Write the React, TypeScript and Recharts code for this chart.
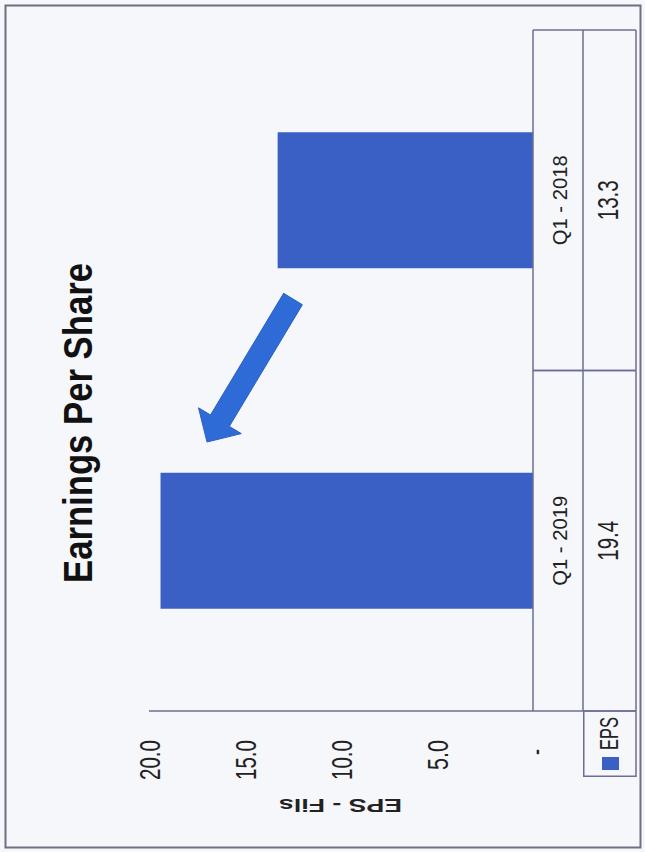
import React from 'react';
import { BarChart, Bar, XAxis, YAxis, Legend } from 'recharts';

// ---- data ----
const categories = ['Q1 - 2019', 'Q1 - 2018'];
const epsValues = [19.4, 13.3];
const valueTicks = [0, 5, 10, 15, 20];
const seriesName = 'EPS';
const chartTitle = 'Earnings Per Share';
const axisTitle = 'EPS - Fils';

const data = categories.map((c, i) => ({ category: c, eps: epsValues[i] }));

// ---- layout (unrotated frame: width = page height, height = page width) ----
const W = 852;
const H = 645;
const M_LEFT = 141;
const M_RIGHT = 30;
const M_TOP = 149;
const X_AXIS_H = 112;
const PLOT_BOTTOM = H - X_AXIS_H; // 533
const BAND = (W - M_LEFT - M_RIGHT) / categories.length;
const ROW_MID = 583;
const ROW_END = 636;
const LINE = '#6b6f95';
const FONT = '"Liberation Sans", Arial, sans-serif';
const BAR_COLOR = '#3a60c6';

function ValueTick(props: any) {
  const { y, payload } = props;
  const v = payload.value as number;
  if (v === 0) {
    return (
      <text x={97} y={y + 13} fontSize={29} fontFamily={FONT} fill="#222"
        textLength={6} lengthAdjust="spacingAndGlyphs">-</text>
    );
  }
  const label = v.toFixed(1);
  return (
    <text x={112} y={y + 11} textAnchor="end" fontSize={29} fontFamily={FONT} fill="#222"
      textLength={label.length * 10} lengthAdjust="spacingAndGlyphs">{label}</text>
  );
}

function TableTick(props: any) {
  const { x, payload } = props;
  const i = categories.indexOf(payload.value);
  const half = BAND / 2;
  return (
    <g>
      <line x1={x - half} x2={x - half} y1={PLOT_BOTTOM} y2={ROW_END} stroke={LINE} strokeWidth={1.5} />
      <line x1={x + half} x2={x + half} y1={PLOT_BOTTOM} y2={ROW_END} stroke={LINE} strokeWidth={1.5} />
      <line x1={x - half} x2={x + half} y1={ROW_MID} y2={ROW_MID} stroke={LINE} strokeWidth={1.5} />
      <line x1={x - half} x2={x + half} y1={ROW_END} y2={ROW_END} stroke={LINE} strokeWidth={1.5} />
      <text x={x} y={567} textAnchor="middle" fontSize={20} fontFamily={FONT} fill="#222"
        textLength={90} lengthAdjust="spacingAndGlyphs">{categories[i]}</text>
      <text x={x} y={618} textAnchor="middle" fontSize={29} fontFamily={FONT} fill="#222"
        textLength={40} lengthAdjust="spacingAndGlyphs">{epsValues[i].toFixed(1)}</text>
    </g>
  );
}

function LegendCell(props: any) {
  const item = props.payload && props.payload[0];
  const color = item ? item.color : BAR_COLOR;
  const name = item ? item.value : seriesName;
  return (
    <svg width={67} height={54} style={{ display: 'block', overflow: 'visible' }}>
      <line x1={0.75} x2={0.75} y1={0} y2={53} stroke={LINE} strokeWidth={1.5} />
      <line x1={0} x2={66} y1={53} y2={53} stroke={LINE} strokeWidth={1.5} />
      <line x1={0} x2={66} y1={0.75} y2={0.75} stroke={LINE} strokeWidth={1.5} />
      <line x1={66} x2={66} y1={0} y2={53} stroke={LINE} strokeWidth={1.5} />
      <rect x={7} y={19} width={13} height={17} fill={color} />
      <text x={27} y={35} fontSize={25} fontFamily={FONT} fill="#222"
        textLength={33} lengthAdjust="spacingAndGlyphs">{name}</text>
    </svg>
  );
}

export default function App() {
  return (
    <div style={{ position: 'fixed', left: 0, top: 0, width: 645, height: 852, background: '#f6f7fb', overflow: 'hidden' }}>
      <div style={{ position: 'absolute', left: 0, top: 0, width: W, height: H, transformOrigin: '0 0', transform: 'translateY(852px) rotate(-90deg)' }}>
        <BarChart width={W} height={H} data={data} margin={{ top: M_TOP, right: M_RIGHT, bottom: 0, left: 0 }} barCategoryGap="30%">
          <XAxis dataKey="category" height={X_AXIS_H} interval={0} tickLine={false}
            axisLine={{ stroke: LINE, strokeWidth: 1.5 }} tick={<TableTick />} />
          <YAxis width={M_LEFT} domain={[0, 20]} ticks={valueTicks} tickLine={false}
            axisLine={{ stroke: LINE, strokeWidth: 1.5 }} tick={<ValueTick />} />
          <Legend layout="horizontal" verticalAlign="middle" align="center" content={<LegendCell />}
            wrapperStyle={{ position: 'absolute', left: 75, top: ROW_MID, width: 67, height: 54, margin: 0, padding: 0 }} />
          <Bar dataKey="eps" name={seriesName} fill={BAR_COLOR} isAnimationActive={false} />
        </BarChart>
        <svg width={W} height={H} style={{ position: 'absolute', left: 0, top: 0, pointerEvents: 'none' }}>
          <text x={269} y={92} fontSize={40} fontWeight="bold" fontFamily={FONT} fill="#111"
            textLength={320} lengthAdjust="spacingAndGlyphs">{chartTitle}</text>
          <text x={53} y={340.5} textAnchor="middle" transform="rotate(-90 53 340.5)" fontSize={18}
            fontWeight="bold" fontFamily={FONT} fill="#222" textLength={123} lengthAdjust="spacingAndGlyphs">{axisTitle}</text>
        </svg>
      </div>
      <svg width={645} height={852} style={{ position: 'absolute', left: 0, top: 0, pointerEvents: 'none' }}>
        <rect x={5.5} y={5.5} width={635} height={842} fill="none" stroke="#6d6f82" strokeWidth={2} />
        <polygon
          points="283.6,293.3 210.5,415.0 198.5,407.8 207,442 241.3,433.6 229.3,426.4 302.4,304.7"
          fill="#2f6bd6" stroke="#2a5fc2" strokeWidth={1} />
      </svg>
    </div>
  );
}
